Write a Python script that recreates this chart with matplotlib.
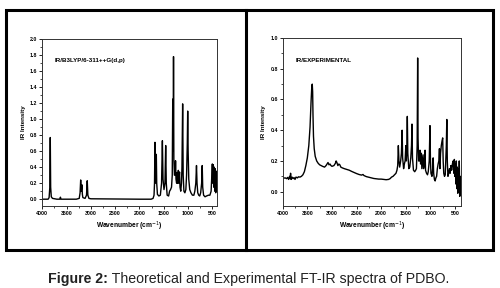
import numpy as np
import matplotlib
matplotlib.use("Agg")
import matplotlib.pyplot as plt
from matplotlib.patches import Rectangle
from matplotlib.ticker import MultipleLocator

plt.rcParams['font.family'] = ['Liberation Sans', 'DejaVu Sans']

# theoretical spectrum (wavenumber, intensity)
theo_w = [4000, 3880, 3860, 3845, 3836, 3828, 3815, 3790, 3700, 3640, 3627, 3615,
          3300, 3240, 3222, 3210, 3198, 3185, 3175, 3165, 3120, 3090, 3075, 3062,
          3040, 3000, 2000, 1760, 1720, 1700, 1690, 1681, 1672, 1663, 1653, 1645,
          1630, 1600, 1570, 1545, 1528, 1515, 1495, 1475, 1460, 1448, 1430, 1400,
          1380, 1360, 1340, 1325, 1315, 1305, 1299, 1292, 1280, 1265, 1257, 1248,
          1235, 1225, 1215, 1200, 1190, 1175, 1165, 1150, 1135, 1125, 1111, 1100,
          1085, 1065, 1045, 1030, 1015, 1007, 998, 985, 965, 940, 910, 880, 860,
          840, 826, 815, 800, 780, 760, 740, 720, 708, 698, 680, 650, 620, 580,
          550, 525, 510, 500, 490, 480, 470, 460, 450, 440, 430, 420, 410]
theo_i = [0.0, 0.0, 0.02, 0.15, 0.77, 0.15, 0.03, 0.01, 0.0, 0.0, 0.025, 0.0,
          0.0, 0.01, 0.08, 0.24, 0.10, 0.18, 0.06, 0.02, 0.01, 0.05, 0.23, 0.05,
          0.01, 0.005, 0.0, 0.0, 0.01, 0.05, 0.2, 0.71, 0.3, 0.2, 0.56, 0.2,
          0.06, 0.04, 0.05, 0.2, 0.73, 0.25, 0.12, 0.2, 0.67, 0.2, 0.05, 0.04,
          0.1, 0.12, 0.15, 0.3, 1.25, 0.6, 1.78, 0.5, 0.3, 0.3, 0.48, 0.25,
          0.2, 0.33, 0.2, 0.36, 0.2, 0.34, 0.15, 0.1, 0.2, 0.4, 1.19, 0.3,
          0.1, 0.08, 0.12, 0.3, 0.7, 1.1, 0.6, 0.25, 0.12, 0.08, 0.05, 0.05, 0.1,
          0.2, 0.42, 0.2, 0.08, 0.05, 0.04, 0.08, 0.2, 0.42, 0.15, 0.05, 0.03, 0.04, 0.05,
          0.05, 0.1, 0.3, 0.44, 0.2, 0.43, 0.15, 0.4, 0.1, 0.38, 0.08, 0.35, 0.1]

# experimental spectrum
exp_w = [4000, 3980, 3950, 3920, 3900, 3880, 3860, 3850, 3840, 3830, 3810, 3790,
         3770, 3750, 3730, 3700, 3680, 3650, 3620, 3590, 3560, 3530, 3500, 3470,
         3445, 3425, 3410, 3400, 3392, 3385, 3375, 3360, 3340, 3310, 3280, 3250,
         3220, 3190, 3150, 3120, 3080, 3060, 3040, 3020, 3000, 2960, 2930, 2915,
         2900, 2880, 2860, 2840, 2820, 2790, 2750, 2700, 2650, 2600, 2550, 2500,
         2450, 2400, 2370, 2350, 2300, 2250, 2200, 2150, 2100, 2050, 2000, 1950,
         1900, 1850, 1820, 1790, 1760, 1730, 1700, 1680, 1665, 1652, 1640, 1625,
         1605, 1590, 1575, 1565, 1545, 1530, 1515, 1500, 1490, 1480, 1470, 1460,
         1440, 1420, 1400, 1385, 1375, 1365, 1345, 1320, 1300, 1285, 1270, 1260,
         1252, 1240, 1225, 1212, 1200, 1185, 1175, 1160, 1150, 1140, 1125, 1110,
         1100, 1080, 1060, 1045, 1025, 1010, 1000, 990, 970, 955, 945, 935, 920,
         905, 890, 875, 860, 845, 830, 818, 808, 795, 780, 765, 752, 742, 730,
         715, 700, 690, 678, 668, 658, 645, 630, 615, 600, 585, 570, 555, 540,
         525, 515, 505, 495, 485, 475, 465, 455, 445, 435, 425, 415, 405, 395,
         385, 380]
exp_i = [0.092, 0.088, 0.09, 0.085, 0.093, 0.08, 0.1, 0.085, 0.12, 0.08, 0.095, 0.085,
         0.092, 0.08, 0.095, 0.09, 0.097, 0.095, 0.1, 0.11, 0.13, 0.17, 0.22, 0.3,
         0.42, 0.58, 0.68, 0.70, 0.65, 0.5, 0.36, 0.28, 0.23, 0.2, 0.185, 0.175,
         0.17, 0.165, 0.16, 0.17, 0.19, 0.175, 0.18, 0.17, 0.165, 0.17, 0.185, 0.2,
         0.19, 0.17, 0.18, 0.175, 0.16, 0.155, 0.15, 0.145, 0.14, 0.132, 0.125, 0.118,
         0.112, 0.108, 0.112, 0.105, 0.098, 0.094, 0.09, 0.086, 0.084, 0.082, 0.082, 0.08,
         0.078, 0.08, 0.085, 0.095, 0.1, 0.11, 0.12, 0.14, 0.17, 0.3, 0.2, 0.16,
         0.2, 0.25, 0.4, 0.22, 0.15, 0.18, 0.2, 0.3, 0.2, 0.28, 0.49, 0.25,
         0.15, 0.16, 0.22, 0.3, 0.44, 0.22, 0.14, 0.13, 0.14, 0.15, 0.3, 0.87,
         0.35, 0.2, 0.2, 0.27, 0.18, 0.25, 0.15, 0.2, 0.24, 0.15, 0.18, 0.27,
         0.14, 0.12, 0.11, 0.13, 0.2, 0.43, 0.2, 0.12, 0.1, 0.15, 0.22, 0.12, 0.08,
         0.07, 0.09, 0.1, 0.15, 0.18, 0.2, 0.28, 0.15, 0.25, 0.3, 0.33, 0.35, 0.2, 0.12,
         0.1, 0.11, 0.2, 0.3, 0.47, 0.2, 0.1, 0.12, 0.15, 0.12, 0.17, 0.14, 0.18, 0.2,
         0.12, 0.21, 0.1, 0.18, 0.05, 0.2, 0.02, 0.16, -0.01, 0.15, 0.0, 0.2, -0.03, 0.1,
         -0.02, 0.05]

x_ticks = [4000, 3500, 3000, 2500, 2000, 1500, 1000, 500]
theo_yticks = [0.0, 0.2, 0.4, 0.6, 0.8, 1.0, 1.2, 1.4, 1.6, 1.8, 2.0]
exp_yticks = [0.0, 0.2, 0.4, 0.6, 0.8, 1.0]

fig = plt.figure(figsize=(5.0, 2.88), dpi=100)

# outer frame and divider
fig.patches.append(Rectangle((6/500, 1-250/288), 487/500, 240/288, transform=fig.transFigure,
                             fill=False, lw=2.2, ec='black'))
fig.lines.append(plt.Line2D([246/500, 246/500], [1-250/288, 1-10/288],
                            transform=fig.transFigure, color='black', lw=2.2))

def setup(ax, ylim, yticks, label):
    ax.set_xlim(x_ticks[0], ylim[2])
    ax.set_ylim(ylim[0], ylim[1])
    ax.set_xticks(x_ticks)
    ax.set_xticklabels([str(t) for t in x_ticks])
    ax.set_yticks(yticks)
    ax.set_yticklabels([f"{t:.1f}" for t in yticks])
    ax.xaxis.set_minor_locator(MultipleLocator(250))
    ax.yaxis.set_minor_locator(MultipleLocator(0.1))
    ax.tick_params(which='major', direction='out', length=2.5, width=0.6, labelsize=3.8, pad=1)
    ax.tick_params(which='minor', direction='out', length=1.3, width=0.5)
    for t in ax.get_xticklabels() + ax.get_yticklabels():
        t.set_fontweight('bold')
    for s in ax.spines.values():
        s.set_linewidth(0.7)
        s.set_color('#333333')
    ax.set_xlabel("Wavenumber (cm$^{-1}$)", fontsize=4.8, fontweight='bold', labelpad=3)
    ax.set_ylabel("IR Intensity", fontsize=4.5, fontweight='bold', labelpad=3)
    ax.text(0.07, 0.86, label, transform=ax.transAxes, fontsize=4.5, fontweight='bold')

ax1 = fig.add_axes([42.3/500, 1-206/288, 174.4/500, 167/288])
ax1.plot(theo_w, theo_i, color='black', lw=1.0)
setup(ax1, (-0.085, 2.0, 410), theo_yticks, "IR/B3LYP/6-311++G(d,p)")

ax2 = fig.add_axes([282.7/500, 1-206/288, 178.3/500, 168/288])
ax2.plot(exp_w, exp_i, color='black', lw=1.0)
setup(ax2, (-0.093, 1.0, 380), exp_yticks, "IR/EXPERIMENTAL")

# caption: bold "Figure 2:" followed by normal text, centred
fig.canvas.draw()
r = fig.canvas.get_renderer()
yc = 1 - 279/288
t1 = fig.text(0, yc, "Figure 2:", fontsize=10.2, fontweight='bold', color='#222222', va='center')
t2 = fig.text(0, yc, " Theoretical and Experimental FT-IR spectra of PDBO.", fontsize=10.2,
              color='#222222', va='center')
w1 = t1.get_window_extent(r).width / 500
w2 = t2.get_window_extent(r).width / 500
x0 = 0.497 - (w1 + w2) / 2
t1.set_x(x0)
t2.set_x(x0 + w1)

fig.savefig("out.png", dpi=100)
